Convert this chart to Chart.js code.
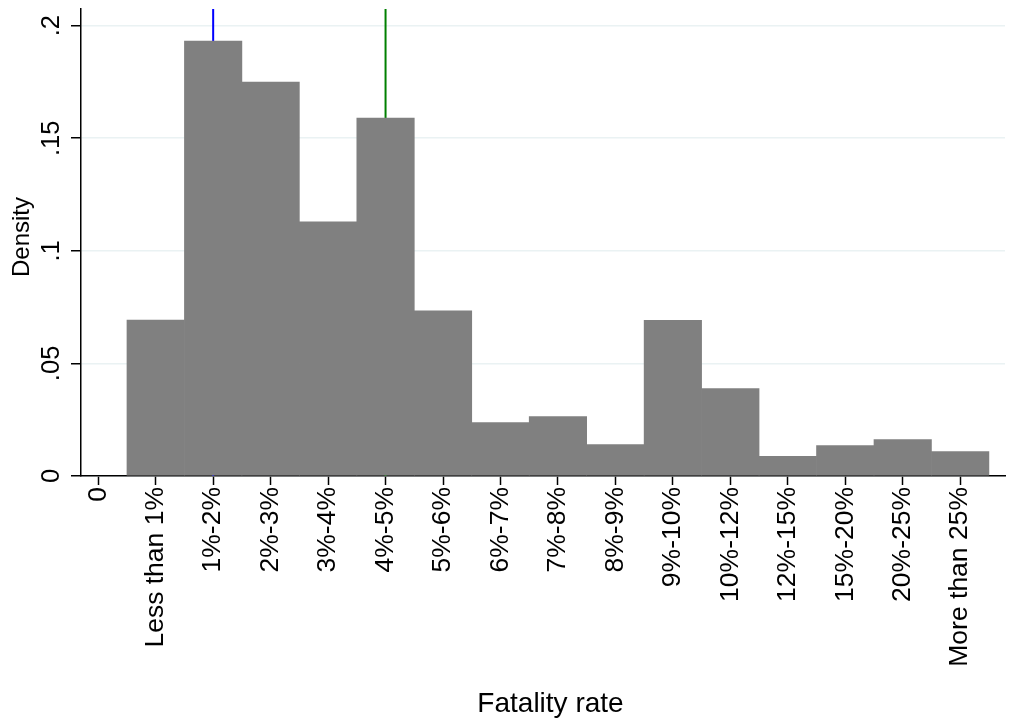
<!DOCTYPE html>
<html>
<head>
<meta charset="utf-8">
<script src="https://cdn.jsdelivr.net/npm/chart.js@4.4.1/dist/chart.umd.min.js"></script>
<style>
html,body{margin:0;padding:0;background:#fff;}
canvas{display:block;}
</style>
</head>
<body>
<canvas id="c" width="1019" height="726"></canvas>
<script>
// ---- data ----
const tickLabels = ["0","Less than 1%","1%-2%","2%-3%","3%-4%","4%-5%","5%-6%","6%-7%","7%-8%","8%-9%","9%-10%","10%-12%","12%-15%","15%-20%","20%-25%","More than 25%"];
const binPositions = [1,2,3,4,5,6,7,8,9,10,11,12,13,14,15];
const density = [0.0693,0.1931,0.1749,0.1129,0.1590,0.0734,0.0237,0.0264,0.0140,0.0691,0.0388,0.0087,0.0135,0.0162,0.0109];
const yTickValues = [0,0.05,0.1,0.15,0.2];
const yTickLabels = ["0",".05",".1",".15",".2"];
const refLineValues = [2,5];
const refLineColors = ["#0000ff","#008000"];

const FONT = "'Liberation Sans', Arial, Helvetica, sans-serif";

const refLinesPlugin = {
  id: 'refLines',
  beforeDatasetsDraw(chart) {
    const {ctx, chartArea, scales:{x}} = chart;
    ctx.save();
    refLineValues.forEach((v,i) => {
      const px = x.getPixelForValue(v);
      ctx.strokeStyle = refLineColors[i];
      ctx.lineWidth = 2;
      ctx.beginPath();
      ctx.moveTo(px, chartArea.top);
      ctx.lineTo(px, chartArea.bottom);
      ctx.stroke();
    });
    ctx.restore();
  }
};

const textPlugin = {
  id: 'texts',
  afterDraw(chart) {
    const {ctx, chartArea, scales:{y}} = chart;
    ctx.save();
    ctx.fillStyle = '#000';
    // y tick labels, rotated
    ctx.font = "25.5px " + FONT;
    ctx.textAlign = 'center';
    ctx.textBaseline = 'alphabetic';
    yTickValues.forEach((v,i) => {
      const py = y.getPixelForValue(v);
      ctx.save();
      ctx.translate(59, py);
      ctx.rotate(-Math.PI/2);
      ctx.fillText(yTickLabels[i], 0, 0);
      ctx.restore();
    });
    // y title
    ctx.save();
    ctx.font = "24px " + FONT;
    ctx.translate(29, 237);
    ctx.rotate(-Math.PI/2);
    ctx.fillText("Density", 0, 0);
    ctx.restore();
    // x title
    ctx.font = "28px " + FONT;
    ctx.fillText("Fatality rate", 550.5, 712);
    ctx.restore();
  }
};

new Chart(document.getElementById('c'), {
  type: 'bar',
  data: {
    datasets: [{
      data: binPositions.map((p,i) => ({x: p, y: density[i]})),
      backgroundColor: '#808080',
      borderWidth: 0,
      barPercentage: 1.0,
      categoryPercentage: 1.0
    }]
  },
  options: {
    responsive: false,
    animation: false,
    devicePixelRatio: 1,
    layout: { padding: { top: 9, right: 14, left: 0, bottom: 0 } },
    plugins: { legend: { display: false }, tooltip: { enabled: false } },
    scales: {
      x: {
        type: 'linear',
        min: -0.30,
        max: 15.78,
        offset: false,
        afterBuildTicks: (s) => { s.ticks = tickLabels.map((_, i) => ({value: i})); },
        afterFit: (s) => { s.height = 250; },
        grid: { offset: false, drawOnChartArea: false, drawTicks: true, tickLength: 9, tickColor: '#000', tickWidth: 1.5 },
        border: { display: true, color: '#000', width: 1.5 },
        ticks: {
          autoSkip: false,
          minRotation: 90,
          maxRotation: 90,
          padding: 2,
          color: '#000',
          font: { family: FONT, size: 26.5 },
          callback: (v) => tickLabels[v] !== undefined ? tickLabels[v] : ''
        }
      },
      y: {
        type: 'linear',
        min: 0,
        max: 0.2074,
        afterBuildTicks: (s) => { s.ticks = yTickValues.map(v => ({value: v})); },
        afterFit: (s) => { s.width = 81; },
        grid: { drawOnChartArea: true, color: '#eaf2f3', lineWidth: 1.5, drawTicks: true, tickLength: 10, tickColor: '#000', tickWidth: 1.5 },
        border: { display: true, color: '#000', width: 1.5 },
        ticks: { display: false }
      }
    }
  },
  plugins: [refLinesPlugin, textPlugin]
});
</script>
</body>
</html>
